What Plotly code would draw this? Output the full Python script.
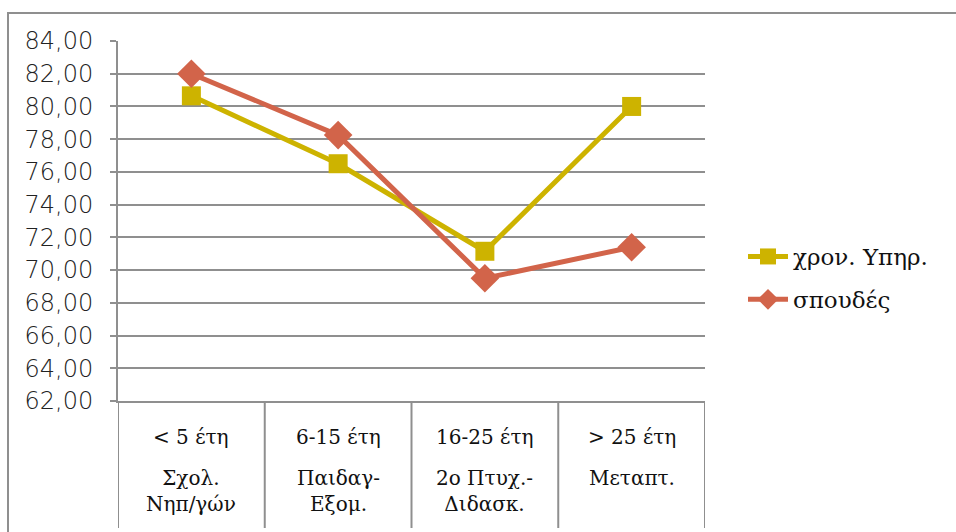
import plotly.graph_objects as go

categories_top = ["< 5 έτη", "6-15 έτη", "16-25 έτη", "> 25 έτη"]
categories_bottom = ["Σχολ.<br>Νηπ/γών", "Παιδαγ-<br>Εξομ.", "2ο Πτυχ.-<br>Διδασκ.", "Μεταπτ."]
series_names = ["χρον. Υπηρ.", "σπουδές"]
values_service = [80.65, 76.5, 71.15, 80.0]
values_studies = [82.0, 78.25, 69.5, 71.4]

W, H = 956, 532
L, R, T, B = 118, 251, 41, 131
pw, ph = W - L - R, H - T - B

def px_x(p):
    return (p - L) / pw

def px_y(p):
    return (H - B - p) / ph

GRID = "#8f8f8f"
CAT_FONT = "DejaVu Serif"
LEG_FONT = "DejaVu Serif"
x_idx = list(range(len(categories_top)))

fig = go.Figure()
fig.add_trace(go.Scatter(
    x=x_idx, y=values_service, name=series_names[0], mode="lines+markers",
    line=dict(color="#CDB300", width=5),
    marker=dict(symbol="square", size=19, color="#CDB300"),
    legendgroup="a",
))
fig.add_trace(go.Scatter(
    x=x_idx, y=values_studies, name=series_names[1], mode="lines+markers",
    line=dict(color="#D2644A", width=5),
    marker=dict(symbol="diamond", size=22, color="#D2644A"),
    legendgroup="b",
))

shapes = []
for i in range(len(categories_top) + 1):
    shapes.append(dict(type="line", xref="x", yref="paper", x0=i - 0.5, x1=i - 0.5,
                       y0=0, y1=px_y(528), line=dict(color=GRID, width=2)))
shapes.append(dict(type="rect", xref="paper", yref="paper",
                   x0=px_x(8), x1=px_x(990), y0=px_y(13), y1=px_y(600),
                   line=dict(color=GRID, width=2), layer="below"))

annotations = []
for i, (t, b) in enumerate(zip(categories_top, categories_bottom)):
    annotations.append(dict(x=i, y=px_y(437), xref="x", yref="paper", text=t,
                            showarrow=False, yanchor="middle",
                            font=dict(family=CAT_FONT, size=20, color="#111")))
    annotations.append(dict(x=i, y=px_y(464), xref="x", yref="paper", text=b,
                            showarrow=False, yanchor="top", align="center",
                            font=dict(family=CAT_FONT, size=20, color="#111")))

fig.update_layout(
    width=W, height=H,
    margin=dict(l=L, r=R, t=T, b=B, pad=0),
    paper_bgcolor="white", plot_bgcolor="white",
    separators=",.",
    showlegend=True,
    legend=dict(x=px_x(743), y=px_y(235), xanchor="left", yanchor="top",
                font=dict(family=LEG_FONT, size=23, color="#111"),
                tracegroupgap=10, traceorder="grouped", itemwidth=40,
                bgcolor="rgba(0,0,0,0)"),
    xaxis=dict(range=[-0.5, len(categories_top) - 0.5], showticklabels=False,
               showgrid=False, zeroline=False, showline=True, linecolor=GRID,
               linewidth=2, ticks=""),
    yaxis=dict(range=[62, 84], dtick=2, tickformat=".2f", showgrid=True,
               gridcolor=GRID, gridwidth=2, zeroline=False, showline=True,
               linecolor=GRID, linewidth=2, ticks="outside", ticklen=6,
               tickcolor=GRID, tickwidth=2, ticklabelstandoff=12,
               tickfont=dict(family="DejaVu Sans", size=24, weight=200, color="#222")),
    shapes=shapes, annotations=annotations,
)

fig.write_html("out.html")
